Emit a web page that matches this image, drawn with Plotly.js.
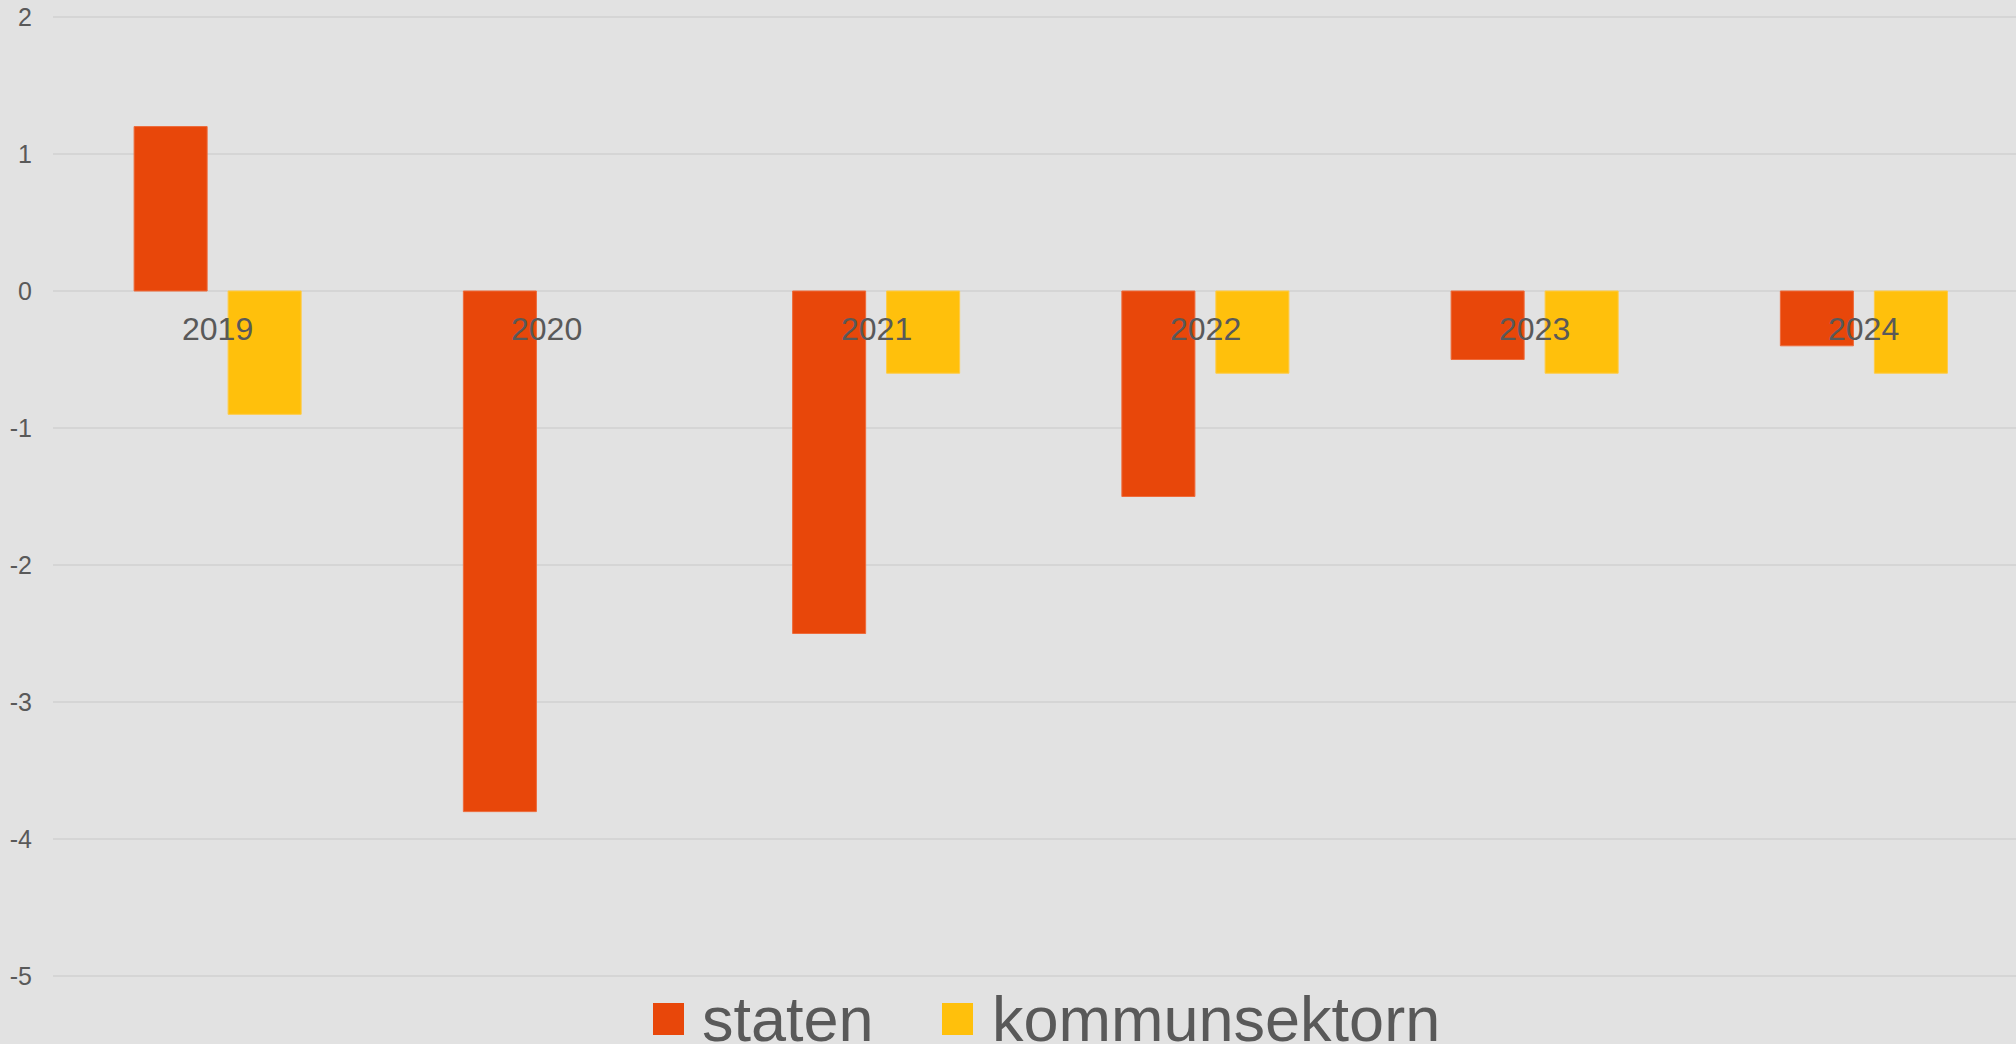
<!DOCTYPE html>
<html>
<head>
<meta charset="utf-8">
<script src="https://cdn.plot.ly/plotly-3.0.1.min.js"></script>
<style>html,body{margin:0;padding:0;background:#e2e2e2;}#chart{width:2016px;height:1044px;}</style>
</head>
<body>
<div id="chart"></div>
<script>
const categories = ['2019', '2020', '2021', '2022', '2023', '2024'];
const staten = [1.2, -3.8, -2.5, -1.5, -0.5, -0.4];
const kommunsektorn = [-0.9, null, -0.6, -0.6, -0.6, -0.6];
const seriesNames = ['staten', 'kommunsektorn'];
const yTicks = [2, 1, 0, -1, -2, -3, -4, -5];

const colStaten = '#E8470A';
const colKommun = '#FFC00C';
const textCol = '#595959';
const font = 'Liberation Sans, Arial, sans-serif';

const traces = [
  {type: 'bar', name: seriesNames[0], x: categories, y: staten,
   marker: {color: colStaten, line: {color: '#EE6A3A', width: 1}}, showlegend: false, hoverinfo: 'skip'},
  {type: 'bar', name: seriesNames[1], x: categories, y: kommunsektorn,
   marker: {color: colKommun, line: {color: '#FFCB45', width: 1}}, showlegend: false, hoverinfo: 'skip'}
];

// category labels sit just under the zero line (category index on the x scale)
const annotations = categories.map((c, i) => ({
  x: i, y: 0, xref: 'x', yref: 'y', text: c, showarrow: false,
  xanchor: 'center', yanchor: 'middle', yshift: -38,
  font: {family: font, size: 32, color: textCol}
}));

// legend (drawn manually to match large swatches)
const W = 1963, H = 1000;
const legendItems = [
  {name: seriesNames[0], color: colStaten, sx: 653, tx: 700},
  {name: seriesNames[1], color: colKommun, sx: 942, tx: 990}
];
const shapes = [];
legendItems.forEach(it => {
  shapes.push({type: 'rect', xref: 'paper', yref: 'paper',
    x0: (it.sx - 53) / W, x1: (it.sx + 31 - 53) / W,
    y0: (1000 - 1003) / H, y1: (1000 - 1035) / H,
    fillcolor: it.color, line: {width: 0}});
  annotations.push({xref: 'paper', yref: 'paper', x: (it.tx - 53) / W, y: (1000 - 1019) / H,
    text: it.name, showarrow: false, xanchor: 'left', yanchor: 'middle',
    font: {family: font, size: 63, color: textCol}});
});

const layout = {
  width: 2016, height: 1044,
  margin: {l: 53, r: 0, t: 0, b: 44, pad: 0},
  paper_bgcolor: '#e2e2e2', plot_bgcolor: '#e2e2e2',
  barmode: 'group', bargap: 0.429, bargroupgap: 0.223,
  showlegend: false,
  xaxis: {type: 'category', range: [-0.5, 5.462], showticklabels: false, showgrid: false,
          zeroline: false, showline: false, ticks: '', fixedrange: true},
  yaxis: {range: [-5.175, 2.124], tickvals: yTicks, ticktext: yTicks.map(String),
          showgrid: true, gridcolor: '#d5d5d5', gridwidth: 1.5,
          zeroline: true, zerolinecolor: '#d5d5d5', zerolinewidth: 1.5,
          showline: false, ticks: '', ticklabelstandoff: 20,
          tickfont: {family: font, size: 25, color: textCol}, fixedrange: true},
  annotations: annotations,
  shapes: shapes,
  font: {family: font, color: textCol}
};

Plotly.newPlot('chart', traces, layout, {displayModeBar: false, staticPlot: true});
</script>
</body>
</html>
